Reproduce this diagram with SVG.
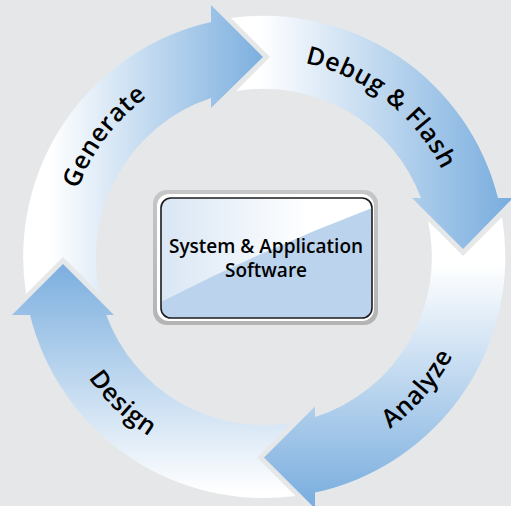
<svg xmlns="http://www.w3.org/2000/svg" width="511" height="506" viewBox="0 0 511 506">
<style>
.lbl{font-family:"Open Sans","Noto Sans","DejaVu Sans",sans-serif;font-weight:600;font-size:25px;fill:#000;letter-spacing:0.6px}
.box{font-family:"Open Sans","Noto Sans","DejaVu Sans",sans-serif;font-weight:600;font-size:19px;fill:#000}
</style>
<defs>
<linearGradient id="gGen" gradientUnits="userSpaceOnUse" x1="50" y1="0" x2="263" y2="0"><stop offset="0" stop-color="#ffffff"/><stop offset="1" stop-color="#7cafdf"/></linearGradient>
<linearGradient id="gDeb" gradientUnits="userSpaceOnUse" x1="260" y1="0" x2="505" y2="0"><stop offset="0" stop-color="#ffffff"/><stop offset="1" stop-color="#7cafdf"/></linearGradient>
<linearGradient id="gAna" gradientUnits="userSpaceOnUse" x1="0" y1="265" x2="0" y2="500"><stop offset="0" stop-color="#ffffff"/><stop offset="1" stop-color="#7cafdf"/></linearGradient>
<linearGradient id="gDes" gradientUnits="userSpaceOnUse" x1="0" y1="492" x2="0" y2="265"><stop offset="0" stop-color="#ffffff"/><stop offset="1" stop-color="#7cafdf"/></linearGradient>
<linearGradient id="gBoxTop" gradientUnits="userSpaceOnUse" x1="161" y1="0" x2="372" y2="0"><stop offset="0" stop-color="#d9e6f4"/><stop offset="0.7" stop-color="#ffffff"/></linearGradient>
<linearGradient id="gFrame" x1="0" y1="0" x2="0" y2="1"><stop offset="0" stop-color="#c6c6c6"/><stop offset="1" stop-color="#b4b4b4"/></linearGradient>
<path id="tpGen" d="M81.7,334.4 A198,198 0 0 1 288.1,60.5"/>
<path id="tpDeb" d="M189.8,73.4 A198,198 0 0 1 460.1,284.6"/>
<path id="tpAna" d="M224.8,466.4 A213,213 0 0 0 464.9,186.2"/>
<path id="tpDes" d="M57.3,205.5 A213,213 0 0 0 322.7,461.8"/>
</defs>
<rect x="0" y="0" width="511" height="506" fill="#e6e7e8"/>
<g id="connectors">
<g id="arrow-generate">
<path d="M26,294 A241,241 0 0 1 211,22 L211,5 L263,57 L211,108 L211,98 A168,168 0 0 0 100,294 L63,257 Z" fill="url(#gGen)"/>
<text class="lbl"><textPath href="#tpGen" startOffset="50%" text-anchor="middle">Generate</textPath></text>
</g>
<g id="arrow-debug">
<path d="M231,18 A241,241 0 0 1 498,198 L513,198 L463,249 L412,198 L421,198 A168,168 0 0 0 236,91 L270,57 Z" fill="url(#gDeb)"/>
<text class="lbl"><textPath href="#tpDeb" startOffset="50%" text-anchor="middle">Debug &amp; Flash</textPath></text>
</g>
<g id="arrow-analyze">
<path d="M502,217 A241,241 0 0 1 315,492.5 L315,508.5 L264,457.5 L315,406.5 L315,417 A168,168 0 0 0 428,221 L463,256 Z" fill="url(#gAna)"/>
<text class="lbl"><textPath href="#tpAna" startOffset="50%" text-anchor="middle">Analyze</textPath></text>
</g>
<g id="arrow-design">
<path d="M295.5,496 A241,241 0 0 1 30,315 L12,315 L63,264 L114,315 L106.3,315 A168,168 0 0 0 291.5,423 L257,457.5 Z" fill="url(#gDes)"/>
<text class="lbl"><textPath href="#tpDes" startOffset="50%" text-anchor="middle">Design</textPath></text>
</g>
</g>
<g id="node-software">
<rect x="153" y="190" width="225" height="135" rx="14" fill="url(#gFrame)"/>
<rect x="157" y="194" width="217" height="127" rx="12" fill="#ffffff"/>
<rect x="161" y="198" width="211" height="120" rx="10" fill="url(#gBoxTop)"/>
<path d="M161,302 Q262,250 372,208 L372,308 A10,10 0 0 1 362,318 L171,318 A10,10 0 0 1 161,308 Z" fill="#bcd3ed"/>
<rect x="161" y="198" width="211" height="120" rx="10" fill="none" stroke="#1c1c1c" stroke-width="1.6"/>
<text class="box" x="266" y="253" text-anchor="middle">System &amp; Application</text>
<text class="box" x="266" y="277" text-anchor="middle">Software</text>
</g>
</svg>
